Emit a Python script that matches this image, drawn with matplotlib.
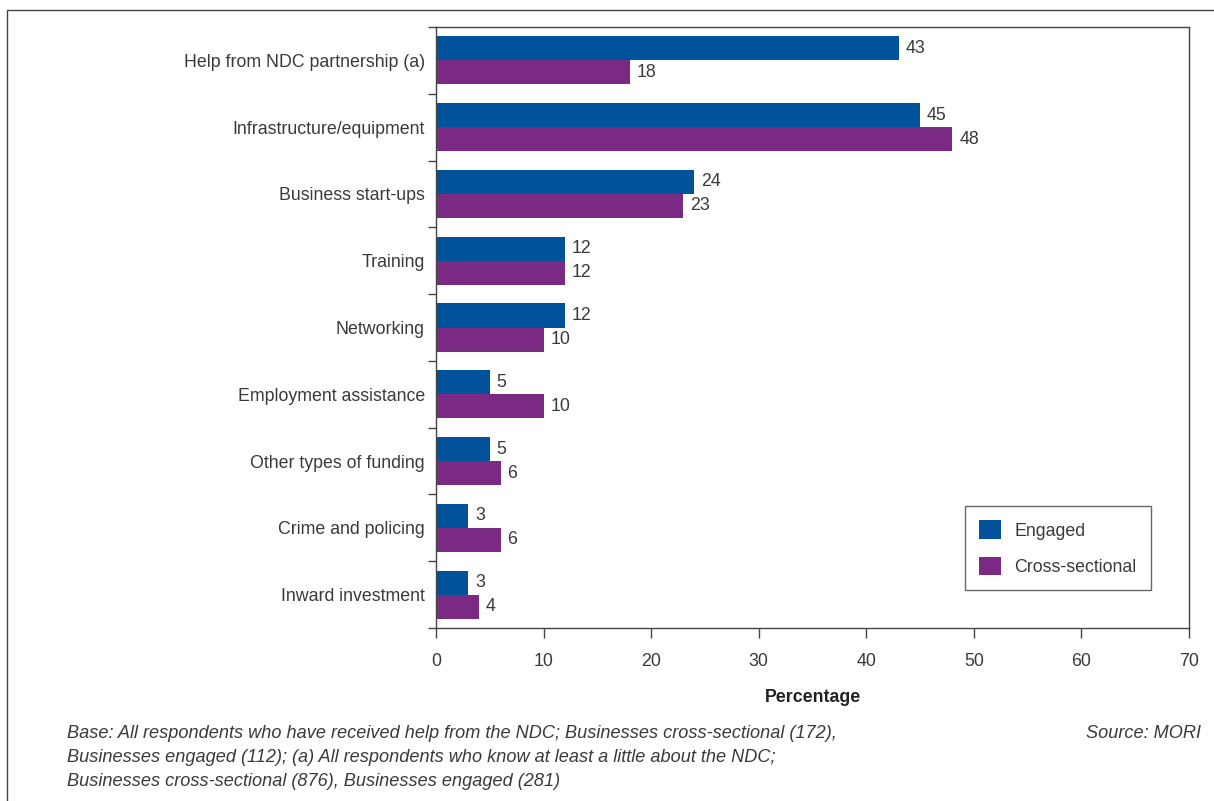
import numpy as np
import matplotlib.pyplot as plt
from matplotlib.patches import Rectangle

plt.rcParams['font.family'] = ['Liberation Sans', 'DejaVu Sans']

categories = ['Help from NDC partnership (a)', 'Infrastructure/equipment',
              'Business start-ups', 'Training', 'Networking',
              'Employment assistance', 'Other types of funding',
              'Crime and policing', 'Inward investment']
engaged = [43, 45, 24, 12, 12, 5, 5, 3, 3]
cross_sectional = [18, 48, 23, 12, 10, 10, 6, 6, 4]
series_names = ['Engaged', 'Cross-sectional']

blue = '#00529b'
purple = '#7b2a83'
text_col = '#3a3a3a'
fs = 12.8

W, H = 1214, 801
fig = plt.figure(figsize=(W / 100, H / 100), dpi=100)

# outer frame
fig.patches.append(Rectangle((7 / W, 1 - 10 / H), 2, -2, transform=fig.transFigure,
                             fill=False, edgecolor='#444444', lw=1.0))

ax = fig.add_axes([436 / W, 1 - 628 / H, (1189 - 436) / W, (628 - 27) / H])

y = np.arange(len(categories))
h = 0.36
b1 = ax.barh(y - h / 2, engaged, height=h, color=blue, label=series_names[0])
b2 = ax.barh(y + h / 2, cross_sectional, height=h, color=purple, label=series_names[1])

for bars, vals in ((b1, engaged), (b2, cross_sectional)):
    for bar, v in zip(bars, vals):
        ax.annotate(str(v), (v, bar.get_y() + bar.get_height() / 2),
                    xytext=(5, 0), textcoords='offset points',
                    va='center', ha='left', fontsize=fs, color=text_col)

ax.set_xlim(0, 70)
ax.set_ylim(len(categories) - 0.5, -0.5)
ax.set_xticks(range(0, 71, 10))
ax.set_yticks(y)
ax.set_yticklabels(categories)
ax.set_yticks(np.arange(-0.5, len(categories)), minor=True)
ax.tick_params(axis='y', which='major', length=0, pad=8, labelsize=fs, labelcolor=text_col)
ax.tick_params(axis='y', which='minor', length=6, width=1, color='#444444')
ax.tick_params(axis='x', length=7, width=1, color='#444444', pad=11,
               labelsize=fs, labelcolor=text_col)
for s in ax.spines.values():
    s.set_color('#444444')
    s.set_linewidth(1)

ax.set_xlabel('Percentage', fontsize=fs, fontweight='bold', color='#222222', labelpad=14)

leg = ax.legend(loc='lower right', bbox_to_anchor=(0.9495, 0.063), fontsize=fs,
                frameon=True, fancybox=False, edgecolor='#444444',
                handlelength=1.25, handleheight=1.25, handletextpad=0.75,
                labelspacing=0.95, borderpad=0.8, borderaxespad=0)
leg.get_frame().set_linewidth(1)
for t in leg.get_texts():
    t.set_color(text_col)

note = ('Base: All respondents who have received help from the NDC; Businesses cross-sectional (172),\n'
        'Businesses engaged (112); (a) All respondents who know at least a little about the NDC;\n'
        'Businesses cross-sectional (876), Businesses engaged (281)')
fig.text(67 / W, 1 - 725 / H, note, ha='left', va='top', fontsize=13.1, style='italic',
         color=text_col, linespacing=1.55)
fig.text(1201 / W, 1 - 725 / H, 'Source: MORI', ha='right', va='top', fontsize=13.1,
         style='italic', color=text_col)

fig.savefig('out.png', dpi=100)
